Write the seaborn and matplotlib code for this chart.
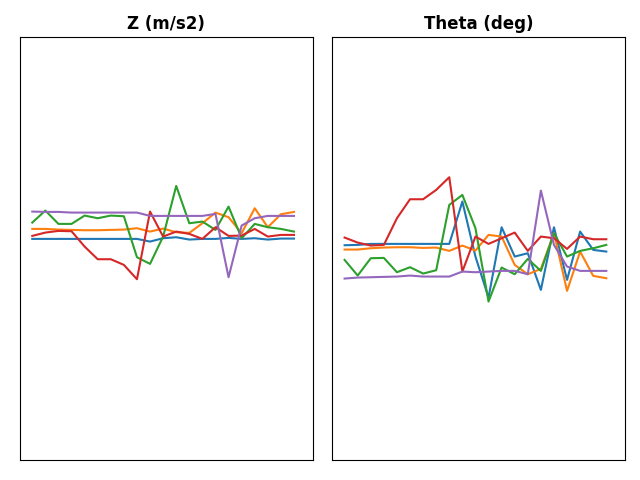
import seaborn as sns
import matplotlib.pyplot as plt
import pandas as pd

steps = list(range(21))

z_blue = [207, 207, 207, 207, 207, 207, 207, 207, 207, 215, 205, 202, 209, 207, 207, 204, 207, 205, 209, 206, 206]
z_orange = [177, 177, 179, 180, 181, 181, 180, 179, 175, 185, 176, 187, 189, 160, 128, 142, 190, 115, 172, 133, 126]
z_green = [158, 122, 162, 162, 137, 145, 137, 139, 262, 282, 200, 48, 160, 155, 180, 110, 205, 162, 172, 177, 185]
z_red = [198, 188, 183, 184, 230, 268, 268, 285, 328, 125, 200, 185, 192, 207, 172, 198, 197, 177, 200, 195, 195]
z_purple = [125, 126, 126, 128, 128, 128, 128, 128, 128, 138, 138, 138, 138, 138, 132, 322, 167, 145, 138, 138, 138]

t_blue = [241, 240, 237, 237, 237, 237, 237, 237, 237, 110, 275, 398, 187, 275, 265, 375, 187, 345, 200, 255, 260]
t_orange = [254, 254, 250, 248, 247, 247, 249, 248, 258, 242, 257, 210, 215, 300, 328, 312, 205, 378, 260, 333, 340]
t_green = [285, 332, 280, 279, 322, 307, 326, 316, 120, 90, 190, 410, 308, 328, 282, 318, 205, 275, 258, 250, 240]
t_red = [218, 233, 242, 240, 160, 103, 103, 75, 37, 320, 215, 237, 220, 203, 258, 215, 220, 252, 215, 223, 223]
t_purple = [341, 338, 337, 336, 335, 332, 335, 335, 335, 320, 322, 320, 318, 318, 328, 77, 240, 305, 318, 318, 318]

colors = ["#1f77b4", "#ff7f0e", "#2ca02c", "#d62728", "#9467bd"]

fig = plt.figure(figsize=(6.4, 4.8), dpi=100)
ax1 = fig.add_axes([0.031, 0.042, 0.458, 0.881])
ax2 = fig.add_axes([0.519, 0.042, 0.458, 0.881])

for ax, series, title, lim in [
        (ax1, [z_blue, z_orange, z_green, z_red, z_purple], "Z (m/s2)", (870, -399)),
        (ax2, [t_blue, t_orange, t_green, t_red, t_purple], "Theta (deg)", (885, -384))]:
    for s, c in zip(series, colors):
        sns.lineplot(x=steps, y=s, color=c, ax=ax, linewidth=1.5)
    ax.set_ylim(*lim)
    ax.set_xlim(-0.95, 21.45)
    ax.set_xticks([])
    ax.set_yticks([])
    ax.set_title(title, fontsize=12, fontweight="bold")

fig.savefig("out.png")
